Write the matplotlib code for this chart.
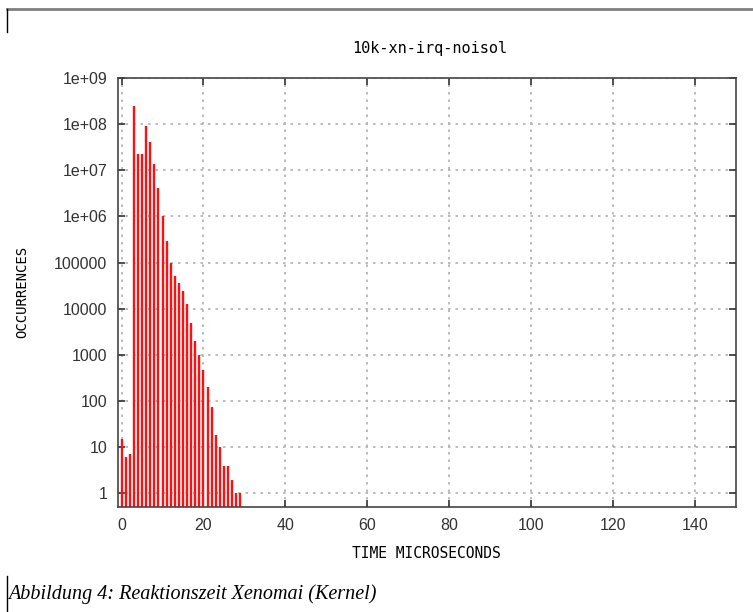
import matplotlib.pyplot as plt
import matplotlib.ticker as mticker
from matplotlib.lines import Line2D

# latency histogram
time_us = list(range(30))
occurrences = [15, 6, 7, 2.5e8, 2.3e7, 2.3e7, 9.1e7, 4.1e7, 1.4e7, 4.1e6,
               1.05e6, 3.0e5, 1.0e5, 5.1e4, 3.6e4, 2.4e4, 1.24e4, 5.0e3, 2.0e3, 1.0e3,
               470, 200, 73, 18, 10, 4, 4, 2, 1, 1]

ytick_vals = [1, 10, 100, 1000, 10000, 100000, 1e6, 1e7, 1e8, 1e9]
ytick_labels = ['1', '10', '100', '1000', '10000', '100000',
                '1e+06', '1e+07', '1e+08', '1e+09']
xtick_vals = [0, 20, 40, 60, 80, 100, 120, 140]

title = '10k-xn-irq-noisol'
xlabel = 'TIME MICROSECONDS'
ylabel = 'OCCURRENCES'
caption = 'Abbildung 4: Reaktionszeit Xenomai (Kernel)'

fig = plt.figure(figsize=(7.53, 6.12), dpi=100)
ax = fig.add_axes([0.1571, 0.1711, 0.9774 - 0.1571, 0.8725 - 0.1711])

ymin = 0.5
ax.set_yscale('log')
ax.set_ylim(ymin, 1e9)
ax.set_xlim(-0.8, 150)

ax.vlines(time_us, ymin, occurrences, color='#ff1010', linewidth=1.7)

ax.set_yticks(ytick_vals)
ax.set_yticklabels(ytick_labels)
ax.yaxis.set_minor_locator(mticker.NullLocator())
ax.set_xticks(xtick_vals)

ax.grid(True, linestyle=(0, (1.5, 3)), color='#b0b0b0', linewidth=1.2)
ax.set_axisbelow(True)
ax.tick_params(direction='in', length=5, width=1.2, top=True, right=True,
               labelsize=11.5, pad=8, colors='#333333')
for lbl in ax.get_xticklabels() + ax.get_yticklabels():
    lbl.set_family('Liberation Sans')
for sp in ax.spines.values():
    sp.set_linewidth(1.2)
    sp.set_color('#444444')

mono = 'DejaVu Sans Mono'
fig.text(0.571, 0.920, title, ha='center', va='center', family=mono, fontsize=11)
fig.text(0.566, 0.0964, xlabel, ha='center', va='center', family=mono, fontsize=10.5)
fig.text(0.029, 0.523, ylabel, ha='center', va='center', rotation=90,
         family=mono, fontsize=10)
fig.text(0.011, 0.030, caption, ha='left', va='center', family='Liberation Serif',
         style='italic', fontsize=14.5)

# page decorations from the scanned document
fig.add_artist(Line2D([0.009, 1.0], [0.985, 0.985], color='#808080', linewidth=2,
                      transform=fig.transFigure))
fig.add_artist(Line2D([0.009, 0.009], [0.985, 0.948], color='black', linewidth=1,
                      transform=fig.transFigure))
fig.add_artist(Line2D([0.009, 0.009], [0.059, 0.0], color='black', linewidth=1,
                      transform=fig.transFigure))

fig.savefig('out.png', dpi=100)
